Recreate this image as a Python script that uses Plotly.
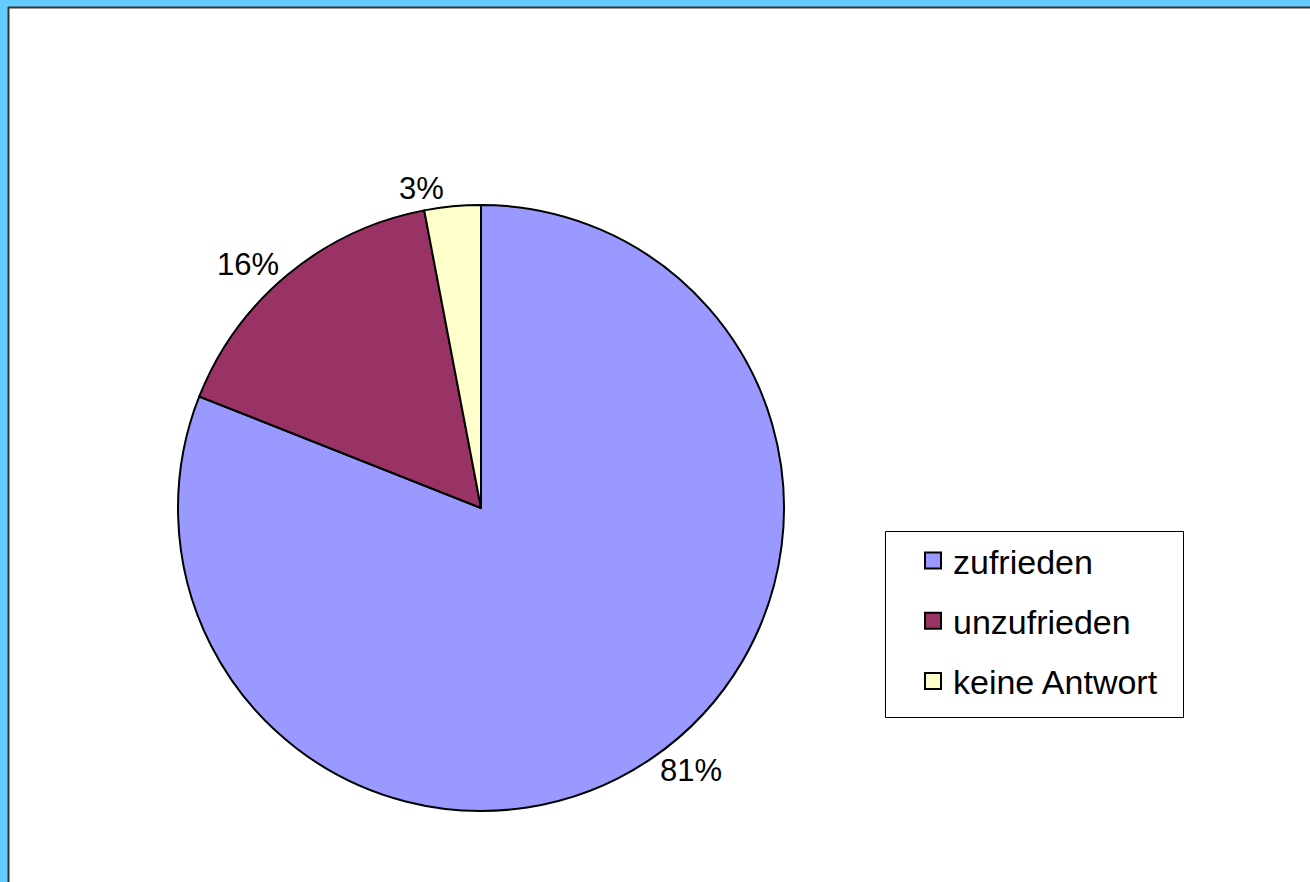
import plotly.graph_objects as go

categories = ["zufrieden", "unzufrieden", "keine Antwort"]
values = [81, 16, 3]
colors = ["#9999FF", "#993366", "#FFFFCC"]

W, H = 1310, 882

fig = go.Figure()

fig.add_trace(go.Pie(
    labels=categories,
    values=values,
    sort=False,
    direction="clockwise",
    rotation=0,
    marker=dict(colors=colors, line=dict(color="#000000", width=2)),
    textposition="outside",
    texttemplate="%{percent:.0%}",
    textfont=dict(family="Liberation Sans, Arial, sans-serif", size=31, color="#000000"),
    showlegend=False,
    domain=dict(x=[178 / W, 784 / W], y=[1 - 811 / H, 1 - 205 / H]),
    hoverinfo="label+percent",
))

for i, (cat, col) in enumerate(zip(categories, colors)):
    fig.add_trace(go.Scatter(
        x=[None], y=[None], mode="markers", name=cat,
        legendgroup=cat,
        marker=dict(symbol="square", size=16, color=col, line=dict(color="#000000", width=2)),
    ))

shapes = [
    # outer frame
    dict(type="rect", xref="paper", yref="paper", x0=0, x1=8 / W, y0=0, y1=1,
         fillcolor="#66CCFF", line=dict(width=0), layer="above"),
    dict(type="rect", xref="paper", yref="paper", x0=0, x1=1, y0=1 - 7 / H, y1=1,
         fillcolor="#66CCFF", line=dict(width=0), layer="above"),
    dict(type="line", xref="paper", yref="paper", x0=8.5 / W, x1=8.5 / W, y0=0, y1=1 - 7 / H,
         line=dict(color="#333333", width=2), layer="above"),
    dict(type="line", xref="paper", yref="paper", x0=8 / W, x1=1, y0=1 - 7.5 / H, y1=1 - 7.5 / H,
         line=dict(color="#333333", width=2), layer="above"),
    # legend box
    dict(type="rect", xref="paper", yref="paper",
         x0=885.5 / W, x1=1183.5 / W, y0=1 - 717.5 / H, y1=1 - 531.5 / H,
         fillcolor="rgba(0,0,0,0)", line=dict(color="#000000", width=1), layer="above"),
]

fig.update_layout(
    width=W, height=H,
    margin=dict(l=0, r=0, t=0, b=0),
    paper_bgcolor="#FFFFFF",
    plot_bgcolor="#FFFFFF",
    xaxis=dict(visible=False),
    yaxis=dict(visible=False),
    shapes=shapes,
    legend=dict(
        x=886 / W, y=1 - 532 / H, xanchor="left", yanchor="top",
        borderwidth=0, bgcolor="rgba(0,0,0,0)",
        font=dict(family="Liberation Sans, Arial, sans-serif", size=34, color="#000000"),
        tracegroupgap=13,
        indentation=27,
        traceorder="grouped",
    ),
)

fig.write_html(
    "out.html",
    config={"displayModeBar": False},
    post_script="document.body.style.margin='0';document.body.style.padding='0';",
)
